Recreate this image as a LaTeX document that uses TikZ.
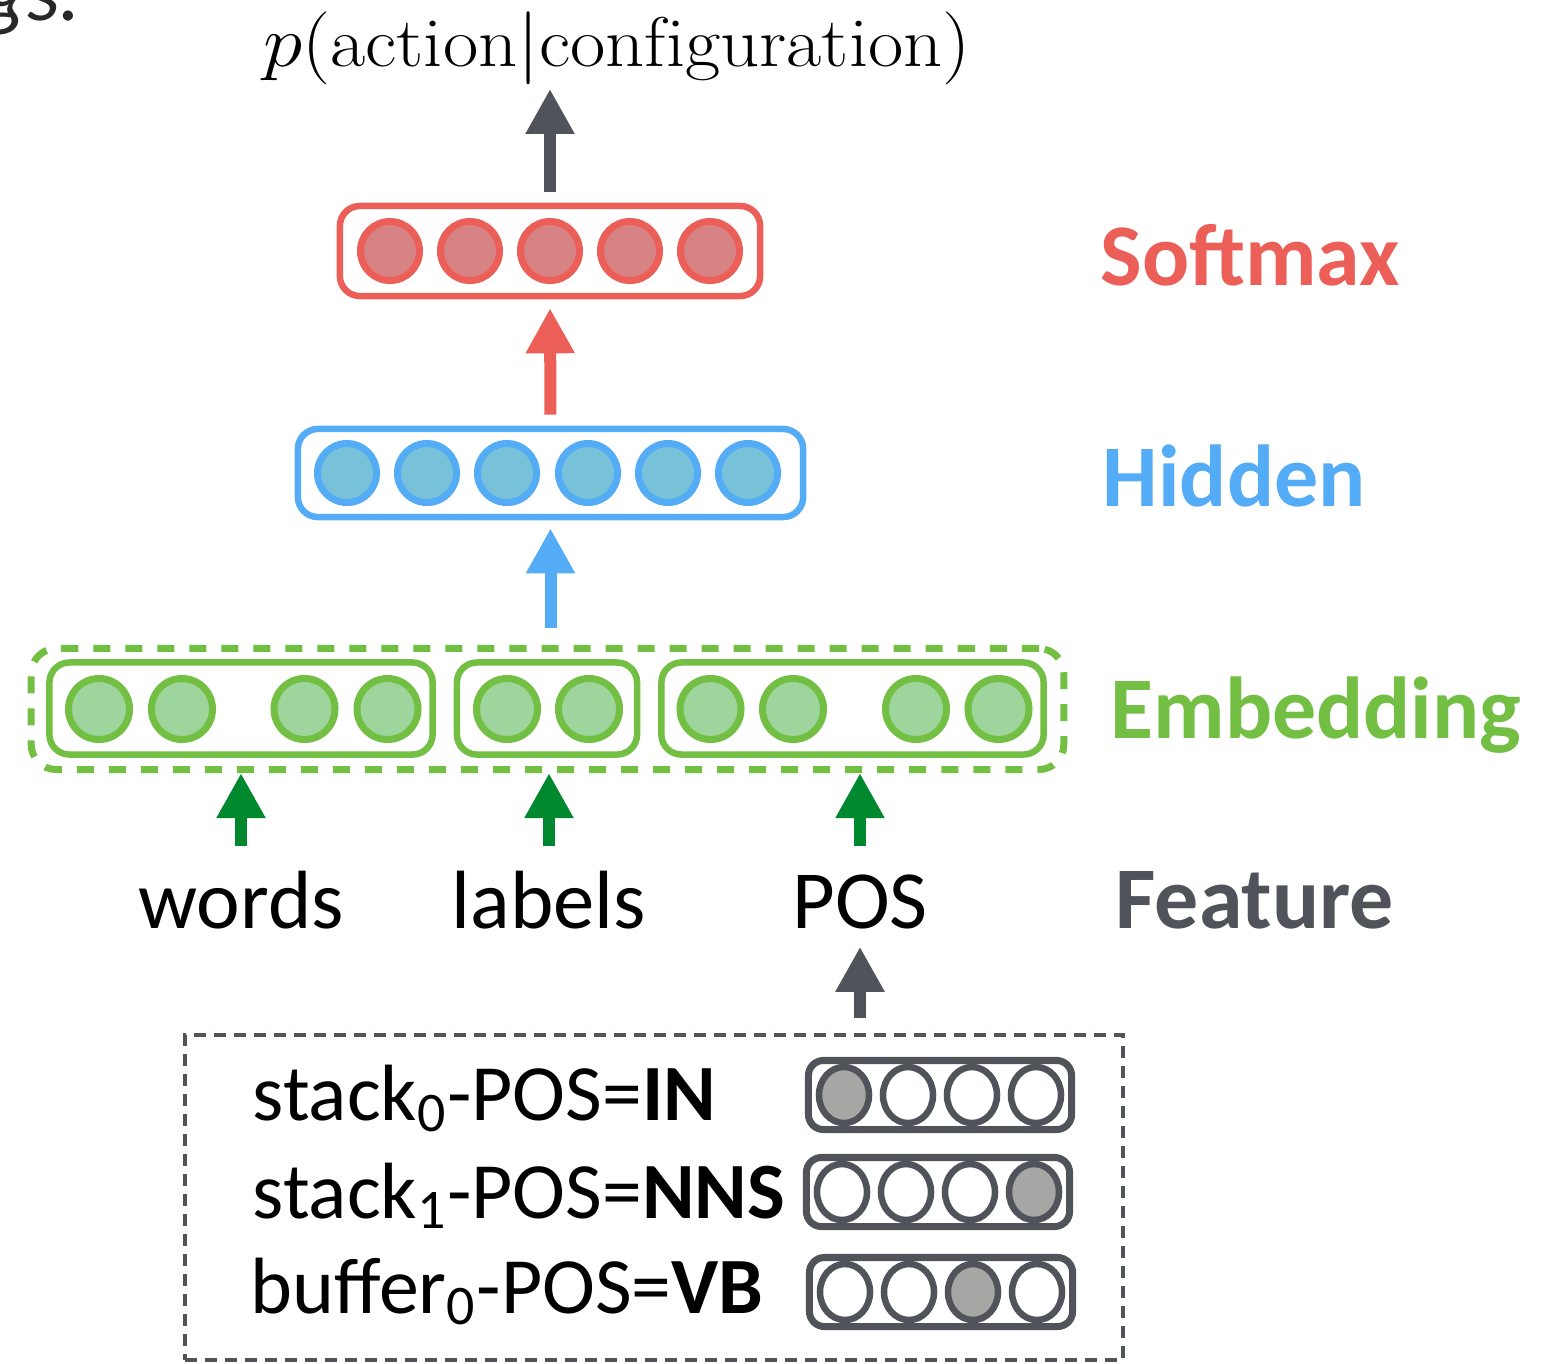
\documentclass[tikz,border=0pt]{standalone}
\usepackage{fontspec}
\newfontfamily\calfont{Carlito}
\usetikzlibrary{arrows.meta,shapes.geometric}

\definecolor{smred}{RGB}{236,95,89}
\definecolor{smfill}{RGB}{216,131,131}
\definecolor{hdblue}{RGB}{85,172,246}
\definecolor{hdfill}{RGB}{119,194,217}
\definecolor{emgreen}{RGB}{114,191,68}
\definecolor{emfill}{RGB}{157,213,156}
\definecolor{ftgreen}{RGB}{0,136,46}
\definecolor{inkgray}{RGB}{80,83,89}
\definecolor{hotfill}{RGB}{165,167,165}
\definecolor{inkdark}{RGB}{40,40,40}

\begin{document}
\begin{tikzpicture}[x=0.01cm, y=-0.01cm,
  layerbox/.style={draw, rounded corners=0.2cm, line width=0.065cm, fill=white,
    minimum height=0.9cm, inner sep=0},
  unit/.style={circle, draw, line width=0.07cm, minimum size=0.59cm, inner sep=0},
  embunit/.style={unit, draw=emgreen, fill=emfill, minimum size=0.61cm},
  hotbox/.style={draw=inkgray, rounded corners=0.15cm, line width=0.07cm, fill=white,
    minimum width=2.63cm, minimum height=0.69cm, inner sep=0},
  hotunit/.style={ellipse, draw=inkgray, line width=0.065cm, fill=white,
    minimum width=0.5cm, minimum height=0.56cm, inner sep=0},
  on/.style={fill=hotfill},
  uparrow/.style={line width=0.12cm, -{Triangle[width=0.46cm,length=0.45cm]}},
  layername/.style={anchor=base west, inner sep=0,
    font=\calfont\bfseries\fontsize{25}{30}\selectfont},
  featname/.style={anchor=base, inner sep=0, text height=0.57cm, text depth=0.18cm,
    font=\calfont\fontsize{23.5}{28}\selectfont},
  featline/.style={anchor=base west, inner sep=0,
    font=\calfont\fontsize{22.7}{27}\selectfont}
]
\useasboundingbox (0,0) rectangle (1554,1363);
\clip (0,0) rectangle (1554,1363);

% fragment of the preceding line of text
\node[anchor=base east, inner sep=0, text=inkdark,
  font=\calfont\itshape\fontsize{24}{28}\selectfont] (frag) at (82,20) {gs.};

% output distribution
\node[anchor=base, inner sep=0, font=\fontsize{20}{24}\selectfont] (title) at (617,66)
  {\scalebox{1.09}[1]{$p(\mathrm{action}|\mathrm{configuration})$}};

% softmax layer
\node[layerbox, draw=smred, minimum width=4.2cm] (smax) at (550,251) {};
\foreach \x in {390,470,550,630,710}
  \node[unit, draw=smred, fill=smfill] (s\x) at (\x,251) {};

% hidden layer
\node[layerbox, draw=hdblue, minimum width=5.05cm, minimum height=0.88cm] (hid) at (550.5,473) {};
\foreach \x in {347,427,507,588,668,748}
  \node[unit, draw=hdblue, fill=hdfill] (h\x) at (\x,473) {};

% embedding layer
\node[draw=emgreen, line width=0.07cm, dash pattern=on 0.17cm off 0.15cm,
  rounded corners=0.25cm, minimum width=10.32cm, minimum height=1.21cm, inner sep=0]
  (emb) at (547.5,709) {};
\node[layerbox, draw=emgreen, minimum width=3.83cm, minimum height=0.92cm] (ewords) at (241,708.5) {};
\node[layerbox, draw=emgreen, minimum width=1.8cm, minimum height=0.92cm] (elabels) at (547,708.5) {};
\node[layerbox, draw=emgreen, minimum width=3.82cm, minimum height=0.92cm] (epos) at (852.5,708.5) {};
\foreach \x in {99,182,304.5,387.5,507,589,710.5,793,916,998.5}
  \node[embunit] (e\x) at (\x,709) {};

% feature groups
\node[featname] (words) at (241,928) {words};
\node[featname] (labels) at (549,928) {labels};
\node[featname] (pos) at (860,928) {POS};

% layer names
\node[layername, text=smred] (lsoft) at (1100,285) {Softmax};
\node[layername, text=hdblue] (lhid) at (1102,506) {Hidden};
\node[layername, text=emgreen] (lemb) at (1110,738) {Embedding};
\node[layername, text=inkgray] (lfeat) at (1115,928) {Feature};

% POS features of the configuration
\node[draw=inkgray, line width=0.04cm, dash pattern=on 0.12cm off 0.08cm,
  minimum width=9.38cm, minimum height=3.25cm, inner sep=0] (feat) at (654,1197.5) {};
\node[featline] (t1) at (252,1120) {stack\textsubscript{0}-POS=\textbf{IN}};
\node[featline] (t2) at (252,1218) {stack\textsubscript{1}-POS=\textbf{NNS}};
\node[featline] (t3) at (250,1313) {buffer\textsubscript{0}-POS=\textbf{VB}};

\node[hotbox] (oh1) at (940,1095) {};
\node[hotunit, on] (a1) at (844,1095) {};
\node[hotunit] (a2) at (908,1095) {};
\node[hotunit] (a3) at (972,1095) {};
\node[hotunit] (a4) at (1036,1095) {};

\node[hotbox] (oh2) at (938,1192) {};
\node[hotunit] (b1) at (842,1192) {};
\node[hotunit] (b2) at (906,1192) {};
\node[hotunit] (b3) at (970,1192) {};
\node[hotunit, on] (b4) at (1034,1192) {};

\node[hotbox] (oh3) at (941,1292) {};
\node[hotunit] (c1) at (845,1292) {};
\node[hotunit] (c2) at (909,1292) {};
\node[hotunit, on] (c3) at (973,1292) {};
\node[hotunit] (c4) at (1037,1292) {};

% connectors
\draw[uparrow, inkgray, shorten <=0.11cm, shorten >=0.04cm] (smax.north) -- (smax.north |- title.south);
\draw[uparrow, smred, shorten <=0.11cm, shorten >=0.09cm] (hid.north) -- (smax.south);
\draw[uparrow, hdblue, shorten <=0.165cm, shorten >=0.08cm] (emb.north -| hid.south) -- (hid.south);
\draw[uparrow, ftgreen, shorten <=0.24cm] (words.north) -- (words.north |- emb.south);
\draw[uparrow, ftgreen, shorten <=0.24cm] (labels.north) -- (labels.north |- emb.south);
\draw[uparrow, ftgreen, shorten <=0.24cm] (pos.north) -- (pos.north |- emb.south);
\draw[uparrow, inkgray, shorten <=0.15cm] (feat.north -| pos.south) -- (pos.south);
\end{tikzpicture}
\end{document}
